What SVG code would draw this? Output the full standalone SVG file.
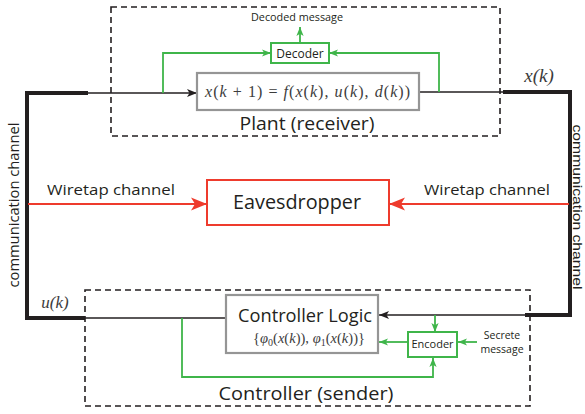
<svg xmlns="http://www.w3.org/2000/svg" width="585" height="414" viewBox="0 0 585 414">
<style>
.sans{font-family:"Open Sans","Liberation Sans",sans-serif;fill:#231f20}
.lsans{font-family:"Liberation Sans",sans-serif;fill:#231f20}
.math{font-family:"Liberation Serif","DejaVu Serif",serif;fill:#3c3c3c;font-weight:normal}
.it{font-style:italic}
.dash{fill:none;stroke:#231f20;stroke-width:1.6;stroke-dasharray:6 4}
.gray{fill:#fff;stroke:#959595;stroke-width:2.2}
.gbox{fill:#fff;stroke:#3fb54a;stroke-width:2}
.rbox{fill:#fff;stroke:#ee3b2d;stroke-width:2}
.thin{fill:none;stroke:#231f20;stroke-width:1.6}
.thick{fill:none;stroke:#231f20;stroke-width:4}
.green{fill:none;stroke:#3fb54a;stroke-width:1.8}
.red{fill:none;stroke:#ee3b2d;stroke-width:1.8}
</style>
<defs>
<marker id="ab" markerUnits="userSpaceOnUse" markerWidth="10" markerHeight="10" viewBox="0 0 10 10" refX="10" refY="5" orient="auto"><path d="M0,1 L10,5 L0,9 L2.5,5 Z" fill="#231f20"/></marker>
<marker id="ag" markerUnits="userSpaceOnUse" markerWidth="9" markerHeight="9" viewBox="0 0 10 10" refX="10" refY="5" orient="auto"><path d="M0,1 L10,5 L0,9 L2.5,5 Z" fill="#3fb54a"/></marker>
<marker id="ar" markerUnits="userSpaceOnUse" markerWidth="16" markerHeight="16" viewBox="0 0 10 10" refX="10" refY="5" orient="auto"><path d="M0,1 L10,5 L0,9 L2.5,5 Z" fill="#ee3b2d"/></marker>
</defs>

<g id="plant-region">
<rect class="dash" x="111" y="7" width="389" height="129"/>
<text class="sans" x="307" y="130" font-size="18" text-anchor="middle" textLength="135" lengthAdjust="spacingAndGlyphs">Plant (receiver)</text>
</g>
<g id="controller-region">
<rect class="dash" x="85" y="290" width="445" height="116"/>
<text class="sans" x="306" y="400" font-size="18" text-anchor="middle" textLength="175" lengthAdjust="spacingAndGlyphs">Controller (sender)</text>
</g>

<g id="connectors">
<path class="thin" d="M27,93 H197" marker-end="url(#ab)"/>
<path class="thick" d="M88,93 H27 V318 H85"/>
<path class="thin" d="M85,318 H226"/>
<path class="thin" d="M419,92 H503"/>
<path class="thick" d="M503,92 H570 V315 H525"/>
<path class="thin" d="M525,315 H379" marker-end="url(#ab)"/>
<path class="green" d="M163,93 V53 H271" marker-end="url(#ag)"/>
<path class="green" d="M439,92 V53 H329" marker-end="url(#ag)"/>
<path class="green" d="M300,43 V27" marker-end="url(#ag)"/>
<path class="green" d="M435,315 V332" marker-end="url(#ag)"/>
<path class="green" d="M408,342 H379" marker-end="url(#ag)"/>
<path class="green" d="M477,342 H458" marker-end="url(#ag)"/>
<path class="green" d="M182,318 V377 H433 V358" marker-end="url(#ag)"/>
<path class="red" d="M28,204 H207" marker-end="url(#ar)"/>
<path class="red" d="M569,204 H389" marker-end="url(#ar)"/>
</g>

<g id="plant">
<rect class="gray" x="197" y="73" width="222" height="37"/>
<text class="math" x="307.5" y="97" font-size="16" text-anchor="middle" textLength="205" lengthAdjust="spacing"><tspan class="it">x</tspan>(<tspan class="it">k</tspan> + 1) = <tspan class="it">f</tspan>(<tspan class="it">x</tspan>(<tspan class="it">k</tspan>), <tspan class="it">u</tspan>(<tspan class="it">k</tspan>), <tspan class="it">d</tspan>(<tspan class="it">k</tspan>))</text>
</g>

<g id="decoder">
<rect class="gbox" x="271" y="43" width="58" height="20"/>
<text class="sans" x="300" y="58" font-size="12" text-anchor="middle">Decoder</text>
</g>
<text id="decoded-message" class="sans" x="297" y="21" font-size="11" text-anchor="middle" textLength="92" lengthAdjust="spacingAndGlyphs">Decoded message</text>

<g id="controller-logic">
<rect class="gray" x="226" y="295" width="152" height="58"/>
<text class="sans" x="305" y="322" font-size="19" text-anchor="middle" textLength="134" lengthAdjust="spacingAndGlyphs">Controller Logic</text>
<text class="math" x="309" y="343" font-size="14.5" text-anchor="middle" textLength="112" lengthAdjust="spacing">{<tspan class="it">φ</tspan><tspan font-size="10" dy="3">0</tspan><tspan dy="-3">(</tspan><tspan class="it">x</tspan>(<tspan class="it">k</tspan>)), <tspan class="it">φ</tspan><tspan font-size="10" dy="3">1</tspan><tspan dy="-3">(</tspan><tspan class="it">x</tspan>(<tspan class="it">k</tspan>))}</text>
</g>

<g id="encoder">
<rect class="gbox" x="408" y="332" width="49" height="25"/>
<text class="sans" x="432.5" y="348" font-size="11" text-anchor="middle">Encoder</text>
</g>
<g id="secrete-message">
<text class="sans" x="502" y="339" font-size="10.5" text-anchor="middle">Secrete</text>
<text class="sans" x="502" y="353" font-size="10.5" text-anchor="middle">message</text>
</g>

<g id="eavesdropper">
<rect class="rbox" x="207" y="180" width="182" height="45"/>
<text class="sans" x="297" y="209" font-size="20" text-anchor="middle" textLength="128" lengthAdjust="spacingAndGlyphs">Eavesdropper</text>
</g>

<g id="labels">
<text class="sans" x="111" y="195" font-size="15" text-anchor="middle" textLength="128" lengthAdjust="spacingAndGlyphs">Wiretap channel</text>
<text class="sans" x="487" y="195" font-size="15" text-anchor="middle" textLength="126" lengthAdjust="spacingAndGlyphs">Wiretap channel</text>
<text class="sans" transform="translate(19,205) rotate(-90)" font-size="14" text-anchor="middle" textLength="165" lengthAdjust="spacingAndGlyphs">communication channel</text>
<text class="lsans" transform="translate(573,207) rotate(90)" font-size="13" text-anchor="middle" textLength="165" lengthAdjust="spacingAndGlyphs">communication channel</text>
<text class="math it" x="539" y="82" font-size="19" text-anchor="middle">x(k)</text>
<text class="math it" x="55" y="308" font-size="17" text-anchor="middle">u(k)</text>
</g>
</svg>
